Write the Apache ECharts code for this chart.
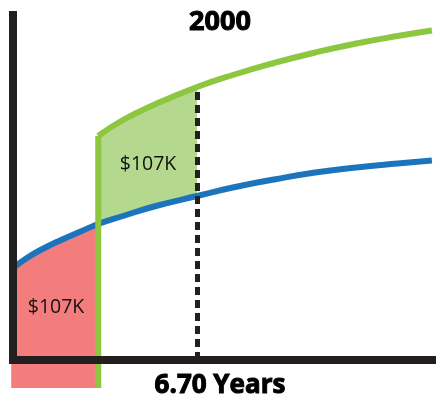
<!DOCTYPE html>
<html>
<head>
<meta charset="utf-8">
<script src="https://cdn.jsdelivr.net/npm/echarts@6/dist/echarts.min.js"></script>
<style>html,body{margin:0;padding:0;background:#fff;}#c{width:442px;height:413px;}</style>
</head>
<body>
<div id="c"></div>
<script>
// ---- data ----
const years     = [0, 0.5, 1.0, 1.75, 2.5, 3.1, 4.0, 5.2, 6.7, 8.0, 9.5, 11.0, 12.5, 14.0, 15.25];
const blueVals  = [92, 102, 110, 120, 129, 136, 144, 154, 164, 172.5, 180.5, 187.5, 192.5, 196.5, 199.5];
const greenVals = [null, null, null, null, null, 224, 240, 256, 273, 285, 297, 307.5, 316.5, 324, 329.5];
const switchYear = 3.1;
const targetYear = 6.7;
const redStartYear = -0.07;
const floorVal = -28;
const xMin = -0.15, xMax = 15.40, yMin = -28, yMax = 349;
const topLabel = '2000';
const bottomLabel = '6.70 Years';
const fillLabel = '$107K';

// ---- derived ----
const iSwitch = years.indexOf(switchYear);
const iTarget = years.indexOf(targetYear);
const bluePts = years.map((x, i) => [x, blueVals[i]]);
const greenPts = years.map((x, i) => [x, greenVals[i]]).filter(p => p[1] != null);
const redPts = [[redStartYear, blueVals[0]]].concat(bluePts.slice(0, iSwitch + 1));
const greenFillTop = bluePts.slice(iSwitch, iTarget + 1).map((p, k) => [p[0], greenVals[iSwitch + k]]);
const greenFillBottom = bluePts.slice(iSwitch, iTarget + 1);

const BLACK = '#231f20', BLUE = '#1c75bc', GREEN = '#8dc63f', LGREEN = '#b4d98e', RED = '#f37d7d';
const SM = 0.5;
const base = {type: 'line', symbol: 'none', silent: true, smooth: SM};

const chart = echarts.init(document.getElementById('c'), null, {renderer: 'canvas'});
chart.setOption({
  animation: false,
  backgroundColor: '#fff',
  grid: {left: 9, right: 6, top: 11, bottom: 25, containLabel: false},
  xAxis: {type: 'value', min: xMin, max: xMax, show: false},
  yAxis: {type: 'value', min: yMin, max: yMax, show: false},
  series: [
    Object.assign({}, base, {data: redPts, z: 1,
      lineStyle: {width: 0}, areaStyle: {color: RED, opacity: 1, origin: 'start'}}),
    Object.assign({}, base, {data: greenFillTop, z: 1,
      lineStyle: {width: 0}, areaStyle: {color: LGREEN, opacity: 1, origin: 'start'}}),
    Object.assign({}, base, {data: greenFillBottom, z: 2,
      lineStyle: {width: 0}, areaStyle: {color: '#ffffff', opacity: 1, origin: 'start'}}),
    Object.assign({}, base, {data: bluePts, z: 3, lineStyle: {width: 6, color: BLUE}}),
    {type: 'line', symbol: 'none', silent: true, z: 4,
     data: [[switchYear, floorVal], [switchYear, greenVals[iSwitch]]],
     lineStyle: {width: 6, color: GREEN}},
    Object.assign({}, base, {data: greenPts, z: 4, lineStyle: {width: 6, color: GREEN}}),
    {type: 'line', data: [], silent: true, z: 5,
     markLine: {silent: true, symbol: ['none', 'none'], label: {show: false},
       lineStyle: {color: BLACK, width: 5, type: [8, 5]},
       data: [[{coord: [targetYear, 0]}, {coord: [targetYear, greenVals[iTarget]]}]]}},
    {type: 'line', data: [], silent: true, z: 6,
     markLine: {silent: true, symbol: ['none', 'none'], label: {show: false},
       lineStyle: {color: BLACK, width: 8, type: 'solid'},
       data: [
         [{coord: [xMin, 0]}, {coord: [xMax, 0]}],
         [{coord: [0, -4]}, {coord: [0, yMax]}]
       ]}}
  ],
  graphic: [
    {type: 'text', x: 220, y: 22, z: 10, style: {text: topLabel, fill: '#000', stroke: '#000', lineWidth: 1, font: 'bold 27px "Open Sans"', textAlign: 'center', textVerticalAlign: 'middle'}},
    {type: 'text', x: 220, y: 386, z: 10, style: {text: bottomLabel, fill: '#000', stroke: '#000', lineWidth: 1, font: 'bold 26px "Open Sans"', textAlign: 'center', textVerticalAlign: 'middle'}},
    {type: 'text', x: 148, y: 164, z: 10, style: {text: fillLabel, fill: '#111', font: '19.5px "Open Sans"', textAlign: 'center', textVerticalAlign: 'middle'}},
    {type: 'text', x: 56, y: 307, z: 10, style: {text: fillLabel, fill: '#111', font: '19.5px "Open Sans"', textAlign: 'center', textVerticalAlign: 'middle'}}
  ]
});
</script>
</body>
</html>
